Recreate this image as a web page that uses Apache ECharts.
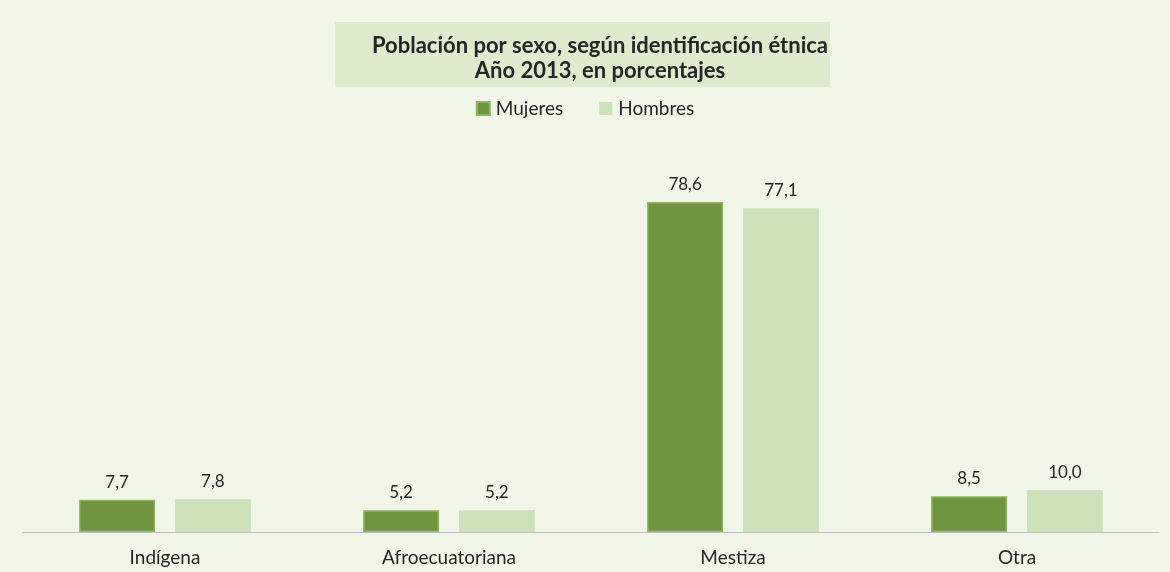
<!DOCTYPE html>
<html>
<head>
<meta charset="utf-8">
<script src="https://cdn.jsdelivr.net/npm/echarts@6/dist/echarts.min.js"></script>
<style>
    html, body { margin: 0; padding: 0; background: #f2f6e9; }
    #chart { width: 1170px; height: 572px; }
</style>
</head>
<body>
<div id="chart"></div>
<script>
// datos: población por sexo según identificación étnica, 2013 (%)
const categorias = ['Indígena', 'Afroecuatoriana', 'Mestiza', 'Otra'];
const mujeres = [7.7, 5.2, 78.6, 8.5];
const hombres = [7.8, 5.2, 77.1, 10.0];

const fuente = 'Lato, "Open Sans", "DejaVu Sans", sans-serif';
const etiqueta = {
    show: true,
    position: 'top',
    distance: 9,
    fontFamily: fuente,
    fontSize: 17,
    color: '#262626',
    formatter: (p) => p.value.toFixed(1).replace('.', ','),
};

const myChart = echarts.init(document.getElementById('chart'));
const option = {
    backgroundColor: '#f2f6e9',
    graphic: [
        {
            type: 'rect',
            left: 335,
            top: 22,
            shape: { width: 495, height: 65 },
            style: { fill: '#dfebcf' },
            z: -1,
        },
    ],
    title: {
        text: 'Población por sexo, según identificación étnica\nAño 2013, en porcentajes',
        left: 595,
        top: 28,
        textAlign: 'center',
        textStyle: {
            fontFamily: fuente,
            fontSize: 22,
            fontWeight: 'bold',
            color: '#262626',
            lineHeight: 25,
        },
    },
    legend: {
        top: 94,
        left: 'center',
        itemWidth: 13,
        itemHeight: 13,
        itemGap: 36,
        icon: 'rect',
        textStyle: { fontFamily: fuente, fontSize: 19, color: '#262626', padding: [0, 0, 0, 1] },
        data: ['Mujeres', 'Hombres'],
    },
    grid: {
        left: 23,
        right: 11,
        bottom: 40,
        top: 196,
    },
    xAxis: {
        type: 'category',
        data: categorias,
        axisLine: { lineStyle: { color: '#bfbfbf', width: 1 } },
        axisTick: { show: false },
        axisLabel: {
            fontFamily: fuente,
            fontSize: 19,
            color: '#262626',
            margin: 16,
        },
    },
    yAxis: {
        type: 'value',
        min: 0,
        max: 80,
        show: false,
        splitLine: { show: false },
    },
    series: [
        {
            name: 'Mujeres',
            type: 'bar',
            data: mujeres,
            barWidth: 76,
            barGap: '26%',
            itemStyle: { color: '#72933f', borderColor: '#8bb85a', borderWidth: 1.5 },
            label: etiqueta,
        },
        {
            name: 'Hombres',
            type: 'bar',
            data: hombres,
            barWidth: 76,
            itemStyle: { color: '#cde2bb' },
            label: etiqueta,
        },
    ],
};
myChart.setOption(option);
window.onresize = myChart.resize;
</script>
</body>
</html>
